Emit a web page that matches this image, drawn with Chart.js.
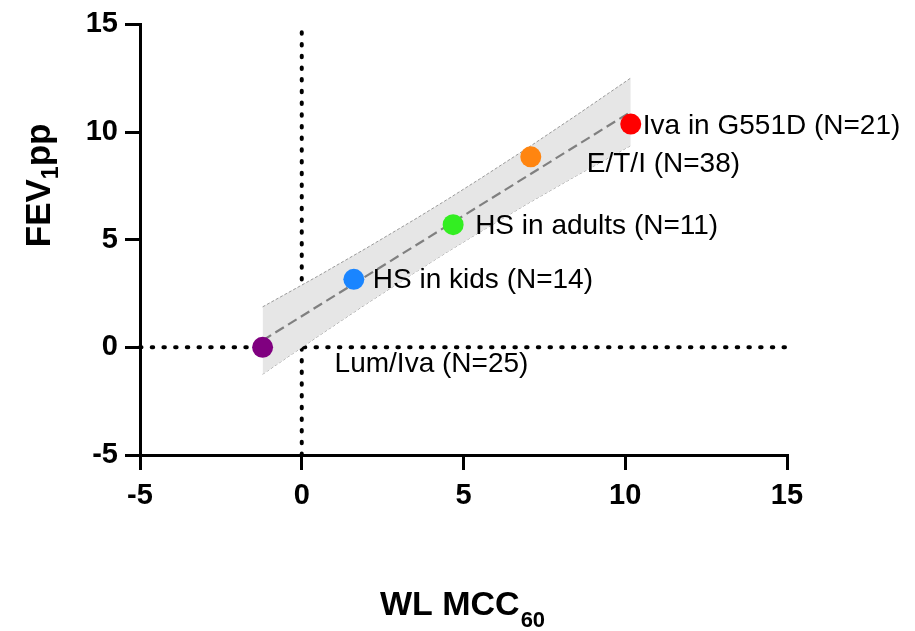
<!DOCTYPE html>
<html>
<head>
<meta charset="utf-8">
<script src="https://cdn.jsdelivr.net/npm/chart.js@4.4.1/dist/chart.umd.min.js"></script>
<style>
  html, body { margin: 0; padding: 0; background: #ffffff; }
  #wrap { width: 915px; height: 631px; position: relative; }
</style>
</head>
<body>
<div id="wrap"><canvas id="c"></canvas></div>
<script>
// ---- data ----
const studyLabels = ['Lum/Iva (N=25)', 'HS in kids (N=14)', 'HS in adults (N=11)', 'E/T/I (N=38)', 'Iva in G551D (N=21)'];
const wlMcc60 = [-1.21, 1.61, 4.68, 7.08, 10.17];
const fev1pp = [0, 3.16, 5.70, 8.85, 10.37];

const fitX = [-1.21, 10.17];
const fitY = [0.32, 10.94];

const bandX = [-1.21, 0.5, 2, 3.5, 4.5, 5.5, 7, 8.5, 10.17];
const bandUpper = [1.88, 3.31, 4.61, 5.95, 6.87, 7.82, 9.28, 10.79, 12.51];
const bandLower = [-1.25, 0.51, 2.02, 3.48, 4.43, 5.35, 6.69, 7.98, 9.37];

const refX = 0;
const refY = 0;

const xTicks = [-5, 0, 5, 10, 15];
const yTicks = [-5, 0, 5, 10, 15];

// ---- styles ----
const pointColors = ['#800080', '#1a85ff', '#33ee22', '#ff8510', '#ff0000'];
const labelDx = [72, 19, 22, 56, 12];
const labelDy = [25, 9, 9.5, 15, 9.5];
const FONT = '"Liberation Sans", Arial, Helvetica, sans-serif';

const toPts = (xs, ys) => xs.map((x, i) => ({ x: x, y: ys[i] }));

const labelPlugin = {
  id: 'studyLabels',
  afterDatasetsDraw(chart) {
    const ctx = chart.ctx;
    const xs = chart.scales.x, ys = chart.scales.y;
    ctx.save();
    ctx.fillStyle = '#000';
    ctx.font = '28px ' + FONT;
    ctx.textAlign = 'left';
    ctx.textBaseline = 'alphabetic';
    studyLabels.forEach((t, i) => {
      const px = xs.getPixelForValue(wlMcc60[i]);
      const py = ys.getPixelForValue(fev1pp[i]);
      ctx.fillText(t, px + labelDx[i], py + labelDy[i]);
    });
    ctx.restore();
  }
};

const titlePlugin = {
  id: 'axisTitles',
  afterDraw(chart) {
    const ctx = chart.ctx;
    const ca = chart.chartArea;
    ctx.save();
    ctx.fillStyle = '#000';
    ctx.textBaseline = 'alphabetic';
    ctx.textAlign = 'left';
    // X title: WL MCC60
    const mainX = 'WL MCC', subX = '60';
    ctx.font = 'bold 34px ' + FONT;
    const wMain = ctx.measureText(mainX).width;
    ctx.font = 'bold 22px ' + FONT;
    const wSub = ctx.measureText(subX).width;
    const total = wMain + 1 + wSub;
    const cx = (ca.left + ca.right) / 2 - 1;
    const x0 = cx - total / 2;
    const base = 615;
    ctx.font = 'bold 34px ' + FONT;
    ctx.fillText(mainX, x0, base);
    ctx.font = 'bold 22px ' + FONT;
    ctx.fillText(subX, x0 + wMain + 1, base + 12);

    // Y title: FEV1pp (rotated)
    const a = 'FEV', s = '1', b = 'pp';
    ctx.font = 'bold 35px ' + FONT;
    const wa = ctx.measureText(a).width;
    const wb = ctx.measureText(b).width;
    ctx.font = 'bold 23px ' + FONT;
    const ws = ctx.measureText(s).width;
    const tot = wa + ws + wb;
    const cyc = ca.top + 161;
    ctx.translate(50, cyc);
    ctx.rotate(-Math.PI / 2);
    let sx = -tot / 2;
    ctx.font = 'bold 35px ' + FONT;
    ctx.fillText(a, sx, 0);
    sx += wa;
    ctx.font = 'bold 23px ' + FONT;
    ctx.fillText(s, sx, 8);
    sx += ws;
    ctx.font = 'bold 35px ' + FONT;
    ctx.fillText(b, sx, 0);
    ctx.restore();
  }
};

const axisCommon = (ticksArr) => ({
  type: 'linear',
  min: ticksArr[0],
  max: ticksArr[ticksArr.length - 1],
  afterBuildTicks: (scale) => { scale.ticks = ticksArr.map(v => ({ value: v })); },
  border: { display: true, color: '#000', width: 3 },
  grid: {
    display: true,
    drawOnChartArea: false,
    drawTicks: true,
    tickLength: 15,
    tickWidth: 3,
    tickColor: '#000',
    color: '#000',
    lineWidth: 3
  },
  ticks: {
    color: '#000',
    font: { family: FONT, size: 29, weight: 'bold' },
    callback: (v) => String(v)
  }
});

const xScale = axisCommon(xTicks);
xScale.ticks.padding = 9;
xScale.ticks.maxRotation = 0;
xScale.afterFit = (s) => { s.height = 176; };
const yScale = axisCommon(yTicks);
yScale.ticks.padding = 7;
yScale.afterFit = (s) => { s.width = 140; };

new Chart(document.getElementById('c'), {
  type: 'scatter',
  data: {
    datasets: [
      {
        label: 'studies',
        data: toPts(wlMcc60, fev1pp),
        pointRadius: 10.5,
        pointHoverRadius: 10.5,
        pointBackgroundColor: pointColors,
        pointBorderColor: pointColors,
        pointBorderWidth: 0,
        showLine: false
      },
      {
        label: 'fit',
        data: toPts(fitX, fitY),
        showLine: true,
        pointRadius: 0,
        borderColor: '#808080',
        borderWidth: 2.2,
        borderDash: [10, 5],
        fill: false
      },
      {
        label: 'upper',
        data: toPts(bandX, bandUpper),
        showLine: true,
        pointRadius: 0,
        borderColor: '#9a9a9a',
        borderWidth: 1,
        borderDash: [3, 2],
        backgroundColor: '#e6e6e6',
        fill: '+1'
      },
      {
        label: 'lower',
        data: toPts(bandX, bandLower),
        showLine: true,
        pointRadius: 0,
        borderColor: '#9a9a9a',
        borderWidth: 1,
        borderDash: [3, 2],
        fill: false
      },
      {
        label: 'refH',
        data: [{ x: xTicks[0], y: refY }, { x: xTicks[xTicks.length - 1], y: refY }],
        showLine: true,
        pointRadius: 0,
        borderColor: '#000',
        borderWidth: 4,
        borderDash: [1.5, 10.2],
        borderCapStyle: 'round',
        clip: false,
        fill: false
      },
      {
        label: 'refV',
        data: [{ x: refX, y: yTicks[0] }, { x: refX, y: yTicks[yTicks.length - 1] }],
        showLine: true,
        pointRadius: 0,
        borderColor: '#000',
        borderWidth: 4,
        borderDash: [1.5, 10.2],
        borderCapStyle: 'round',
        clip: false,
        fill: false
      }
    ]
  },
  options: {
    responsive: true,
    maintainAspectRatio: false,
    animation: false,
    layout: { padding: { top: 22, right: 128, left: 0, bottom: 0 } },
    plugins: {
      legend: { display: false },
      tooltip: { enabled: false },
      title: { display: false }
    },
    scales: { x: xScale, y: yScale }
  },
  plugins: [labelPlugin, titlePlugin]
});
</script>
</body>
</html>
